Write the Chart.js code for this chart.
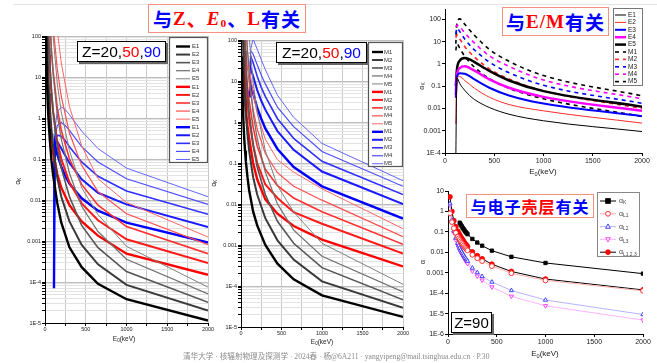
<!DOCTYPE html>
<html>
<head>
<meta charset="utf-8">
<title>K-shell internal conversion coefficients</title>
<script src="https://cdn.jsdelivr.net/npm/chart.js@4.4.1/dist/chart.umd.min.js"></script>
<style>
  html, body { margin: 0; padding: 0; background: #fff; }
  body { width: 657px; height: 363px; position: relative; overflow: hidden; font-family: "Liberation Sans", Arial, sans-serif; }
  .pane { position: absolute; }
  .rule { position: absolute; left: 13px; top: 4px; width: 644px; height: 1px; background: #e3e3e3; }
  .tag { position: absolute; box-sizing: border-box; border: 1px solid #f3907f; background: #fff; display: flex; align-items: center; justify-content: center; white-space: nowrap; font-weight: 700; font-family: "Noto Sans CJK SC", sans-serif; color: #0000ff; letter-spacing: 1px; }
  .tag .r { color: #ff0000; }
  .tag .lat { font-family: "Liberation Serif", serif; }
  .tag sub { font-size: 60%; vertical-align: -0.2em; }
  .zbox { position: absolute; box-sizing: border-box; border: 1px solid #000; background: #fff; box-shadow: 2px 2px 0 #666; display: flex; align-items: center; justify-content: center; color: #000; white-space: nowrap; }
  .foot { position: absolute; left: 183px; top: 350px; font-size: 7.6px; font-family: "Liberation Serif", "Noto Sans CJK SC", serif; color: #8a8a8a; white-space: nowrap; }
</style>
</head>
<body>
<div class="rule"></div>
<div class="pane" id="p1"><canvas id="c1"></canvas></div>
<div class="pane" id="p2"><canvas id="c2"></canvas></div>
<div class="pane" id="p3"><canvas id="c3"></canvas></div>
<div class="pane" id="p4"><canvas id="c4"></canvas></div>

<div class="tag" style="left:148px;top:4px;width:158px;height:29px;font-size:19px">与<span class="r lat">Z</span><span class="r">、</span><span class="r lat"><i>E</i><sub>0</sub></span>、<span class="r lat">L</span>有关</div>
<div class="tag" style="left:502px;top:7px;width:107px;height:29px;font-size:19px">与<span class="r lat">E/M</span>有关</div>
<div class="tag" style="left:466px;top:194px;width:128px;height:24px;font-size:16px">与电子<span class="r">壳层</span>有关</div>

<div class="zbox" style="left:77px;top:41px;width:89px;height:21px;font-size:15.5px">Z=20,<span style="color:#ff0000">50</span>,<span style="color:#0000ff">90</span></div>
<div class="zbox" style="left:276px;top:42px;width:91px;height:21px;font-size:15.5px">Z=20,<span style="color:#ff0000">50</span>,<span style="color:#0000ff">90</span></div>
<div class="zbox" style="left:451px;top:312px;width:41px;height:21px;font-size:15px;border-width:1.5px">Z=90</div>

<div class="foot">清华大学 · 核辐射物理及探测学 · 2024春 · 杨@6A211 · yangyipeng@mail.tsinghua.edu.cn · P.30</div>

<script>
const FONT = '"Liberation Sans", Arial, sans-serif';

// transition energies E0 (keV) for each Z (K edge cuts the low end)
const eZ20 = [10, 20, 30, 40, 50, 60, 80, 100, 150, 200, 300, 450, 650, 1000, 2000];
const eZ50 = [30, 40, 50, 60, 80, 100, 150, 200, 300, 450, 650, 1000, 2000];
const eZ90 = [110, 120, 150, 200, 250, 300, 450, 650, 1000, 2000];

// alpha_K, electric multipoles E1..E5
const z20E = [
  [200, 16, 3.5, 1.2, 0.55, 0.28, 0.09, 0.04, 0.0085, 0.0028, 7e-4, 2.3e-4, 9e-5, 3.8e-5, 1.15e-5],
  [8000, 350, 45, 11, 4, 1.7, 0.5, 0.2, 0.035, 0.012, 3e-3, 8e-4, 2.7e-4, 8.5e-5, 2e-5],
  [3e5, 6000, 900, 160, 50, 20, 4.5, 1.5, 0.2, 0.06, 0.012, 2.4e-3, 6.9e-4, 1.8e-4, 3.2e-5],
  [1e7, 1e5, 1e4, 3000, 800, 250, 45, 12, 1.2, 0.3, 0.045, 7e-3, 1.7e-3, 3.6e-4, 5.1e-5],
  [3e8, 2e6, 1e5, 2e4, 7000, 3000, 450, 100, 7, 1.4, 0.16, 0.02, 4.4e-3, 7.4e-4, 7.5e-5]
];
const z50E = [
  [18, 4.9, 1.85, 0.89, 0.3, 0.14, 0.043, 0.02, 0.0075, 0.003, 1.35e-3, 4.9e-4, 1.5e-4],
  [860, 133, 35, 15.6, 3.7, 1.37, 0.27, 0.1, 0.027, 8.3e-3, 3.2e-3, 1.1e-3, 2.9e-4],
  [1.2e4, 1800, 500, 180, 40, 13.7, 1.8, 0.5, 0.1, 0.024, 7.5e-3, 2.25e-3, 4.9e-4],
  [5e5, 6e4, 1.5e4, 4500, 700, 170, 16, 3.3, 0.43, 0.07, 0.016, 4.6e-3, 8.1e-4],
  [2e7, 2e6, 4e5, 1.2e5, 1.5e4, 3500, 140, 22, 1.9, 0.21, 0.033, 8.7e-3, 1.25e-3]
];
const z90E = [
  [7e-5, 0.24, 0.13, 0.065, 0.038, 0.025, 0.011, 0.0055, 0.0028, 9.2e-4],
  [0.002, 0.22, 0.27, 0.18, 0.12, 0.08, 0.032, 0.015, 0.0078, 0.0022],
  [0.03, 0.25, 0.38, 0.36, 0.28, 0.2, 0.085, 0.038, 0.0165, 0.0045],
  [0.04, 0.3, 0.65, 0.78, 0.65, 0.5, 0.2, 0.085, 0.033, 0.0078],
  [0.1, 0.5, 1.4, 1.85, 1.6, 1.2, 0.48, 0.18, 0.06, 0.012]
];

// alpha_K, magnetic multipoles M1..M5
const z20M = [
  [40, 4, 1, 0.4, 0.2, 0.11, 0.045, 0.022, 6.5e-3, 3e-3, 1e-3, 3.5e-4, 1.45e-4, 5.9e-5, 1.76e-5],
  [6000, 250, 35, 9, 3.5, 1.6, 0.5, 0.2, 0.045, 0.017, 4.5e-3, 1.3e-3, 4.4e-4, 1.3e-4, 2.95e-5],
  [2e5, 5000, 900, 180, 55, 22, 5, 1.8, 0.27, 0.08, 0.017, 3.8e-3, 1.1e-3, 2.8e-4, 4.6e-5],
  [8e6, 1e5, 1.5e4, 4000, 1000, 300, 55, 16, 1.6, 0.4, 0.06, 0.01, 2.3e-3, 5.3e-4, 7.2e-5],
  [2e8, 2e6, 2e5, 3e4, 9000, 4000, 550, 130, 9, 1.8, 0.2, 0.028, 6.4e-3, 1.1e-3, 1.1e-4]
];
const z50M = [
  [15, 6.5, 3.3, 1.9, 0.8, 0.4, 0.1, 0.04, 0.013, 5.8e-3, 2.9e-3, 1.35e-3, 3e-4],
  [60, 25, 12, 6.5, 2.6, 1.2, 0.28, 0.1, 0.03, 0.014, 6.3e-3, 3.3e-3, 6.2e-4],
  [200, 80, 38, 20, 7.5, 3.4, 0.75, 0.26, 0.07, 0.028, 0.014, 6.5e-3, 1.04e-3],
  [600, 240, 110, 58, 21, 9.5, 2, 0.68, 0.17, 0.058, 0.027, 0.0124, 1.6e-3],
  [1500, 600, 280, 150, 55, 24, 5, 1.6, 0.38, 0.12, 0.06, 0.0235, 2.5e-3]
];
const z90M = [
  [4, 8, 5, 2.2, 1.2, 0.7, 0.22, 0.08, 0.027, 0.0044],
  [15, 20, 13, 6, 3.3, 2, 0.6, 0.21, 0.062, 0.01],
  [22, 40, 28, 13, 7, 4.2, 1.2, 0.4, 0.11, 0.017],
  [45, 55, 45, 25, 14, 8.5, 2.3, 0.77, 0.19, 0.027],
  [8, 60, 105, 60, 33, 19, 4.5, 1.3, 0.3, 0.037]
];

// Z=90 shell by shell
const eK = [120, 130, 140, 150, 160, 170, 180, 190, 200, 250, 300, 350, 450, 650, 1000, 2000];
const aK = [0.28, 0.23, 0.19, 0.16, 0.135, 0.115, 0.1, 0.088, 0.077, 0.045, 0.03, 0.021, 0.012, 0.006, 0.003, 9e-4];
const eL = [20, 40, 60, 80, 100, 110, 120, 130, 140, 150, 160, 170, 180, 190, 200, 250, 300, 350, 450, 650, 1000, 2000];
const aL1 = [0.8, 0.3, 0.15, 0.09, 0.058, 0.048, 0.04, 0.034, 0.029, 0.025, 0.021, 0.018, 0.016, 0.014, 0.0125, 0.0075, 0.0051, 0.0037, 0.0021, 9.4e-4, 4.2e-4, 1.3e-4];
const aL2 = [2.4, 0.38, 0.11, 0.05, 0.028, 0.021, 0.016, 0.013, 0.0105, 0.0087, 0.0072, 0.006, 0.0051, 0.0044, 0.0037, 0.0017, 1.02e-3, 6.6e-4, 3.5e-4, 1.35e-4, 4.6e-5, 9e-6];
const aL3 = [2.0, 0.32, 0.09, 0.04, 0.022, 0.017, 0.013, 0.0104, 0.0084, 0.0069, 0.0057, 0.0047, 0.0039, 0.0033, 0.0028, 0.0012, 6.8e-4, 4.3e-4, 2e-4, 7e-5, 2.4e-5, 4.8e-6];
const aL123 = [5.2, 1.0, 0.35, 0.18, 0.108, 0.086, 0.069, 0.057, 0.048, 0.041, 0.034, 0.029, 0.025, 0.022, 0.019, 0.0104, 0.0068, 0.0048, 0.0026, 1.15e-3, 4.9e-4, 1.44e-4];

const multLabelsE = ['E1', 'E2', 'E3', 'E4', 'E5'];
const multLabelsM = ['M1', 'M2', 'M3', 'M4', 'M5'];
const shellLabels = ['αK', 'αL1', 'αL2', 'αL3', 'αL1,2,3'];

const decadePow = [-6, -5, -4, -3, -2, -1, 0, 1, 2];
const decadeText = ['1E-6', '1E-5', '1E-4', '0.001', '0.01', '0.1', '1', '10', '100'];

// styles
const shadeBlack = ['#000000', '#3a3a3a', '#555555', '#6e6e6e', '#808080'];
const shadeRed = ['#ff0000', '#ff1a1a', '#ff3030', '#ff4d4d', '#ff6464'];
const shadeBlue = ['#0000ff', '#1a1aff', '#3030ff', '#4d4dff', '#6464ff'];
const multWidth = [2.4, 2.0, 1.6, 1.2, 1.0];

const pts = (xs, ys) => xs.map((x, i) => ({ x: x, y: ys[i] }));
const isDecade = v => { const l = Math.log10(v); return Math.abs(l - Math.round(l)) < 1e-6; };
function decadeLabel(v) {
  if (!isDecade(v)) return '';
  const i = decadePow.indexOf(Math.round(Math.log10(v)));
  return i < 0 ? '' : decadeText[i];
}
function logTicks(min, max, minor) {
  const out = [];
  const p0 = Math.floor(Math.log10(min) + 1e-9), p1 = Math.floor(Math.log10(max) + 1e-9);
  for (let p = p0; p <= p1; p++) {
    for (let m = 1; m <= 9; m++) {
      if (!minor && m > 1) continue;
      const v = m * Math.pow(10, p);
      if (v >= min * 0.9999 && v <= max * 1.0001) out.push({ value: v });
    }
  }
  return out;
}

// text with subscripts drawn on the canvas (axis titles)
function textPlugin(items, ox, oy) {
  return {
    id: 'texts',
    afterDraw(chart) {
      const ctx = chart.ctx;
      items.forEach(it => {
        ctx.save();
        ctx.translate(it.x - ox, it.y - oy);
        if (it.rot) ctx.rotate(it.rot);
        ctx.fillStyle = it.color || '#222';
        ctx.textBaseline = 'middle';
        const big = it.size + 'px ' + FONT, small = (it.size * 0.7) + 'px ' + FONT;
        let w = 0;
        it.parts.forEach(p => { ctx.font = p.sub ? small : big; w += ctx.measureText(p.t).width; });
        let x = -w / 2;
        it.parts.forEach(p => {
          ctx.font = p.sub ? small : big;
          ctx.fillText(p.t, x, p.sub ? it.size * 0.3 : 0);
          x += ctx.measureText(p.t).width;
        });
        ctx.restore();
      });
    }
  };
}

function marker(ctx, style, r, x, y, rot) {
  ctx.beginPath();
  if (style === 'rect') {
    ctx.rect(x - r, y - r, 2 * r, 2 * r);
  } else if (style === 'triangle') {
    const s = rot ? -1 : 1;
    ctx.moveTo(x, y - s * r * 1.1);
    ctx.lineTo(x + r, y + s * r * 0.7);
    ctx.lineTo(x - r, y + s * r * 0.7);
    ctx.closePath();
  } else {
    ctx.arc(x, y, r, 0, Math.PI * 2);
  }
  ctx.fill();
  ctx.stroke();
}

// boxed legend inside the plot
function legendPlugin(o, ox, oy) {
  return {
    id: 'boxLegend',
    afterDatasetsDraw(chart) {
      const ctx = chart.ctx;
      const x = o.x - ox, y = o.y - oy;
      ctx.save();
      ctx.fillStyle = '#fff';
      ctx.fillRect(x, y, o.w, o.h);
      ctx.strokeStyle = o.border;
      ctx.lineWidth = o.borderWidth;
      ctx.strokeRect(x + 0.5, y + 0.5, o.w - 1, o.h - 1);
      chart.data.datasets.forEach((ds, i) => {
        const ry = y + o.first + i * o.row;
        ctx.strokeStyle = ds.borderColor;
        ctx.lineWidth = ds.borderWidth;
        ctx.setLineDash(ds.borderDash || []);
        ctx.beginPath();
        ctx.moveTo(x + o.l0, ry);
        ctx.lineTo(x + o.l1, ry);
        ctx.stroke();
        ctx.setLineDash([]);
        if (ds.pointRadius) {
          ctx.fillStyle = ds.pointBackgroundColor;
          ctx.strokeStyle = ds.pointBorderColor;
          ctx.lineWidth = ds.pointBorderWidth;
          marker(ctx, ds.pointStyle, ds.pointRadius, x + (o.l0 + o.l1) / 2, ry, ds.pointRotation);
        }
        ctx.fillStyle = o.color;
        ctx.textBaseline = 'middle';
        ctx.font = o.size + 'px ' + FONT;
        const lbl = ds.label;
        if (lbl[0] === 'α') {
          ctx.fillText('α', x + o.tx, ry);
          const w = ctx.measureText('α').width;
          ctx.font = (o.size * 0.7) + 'px ' + FONT;
          ctx.fillText(lbl.slice(1), x + o.tx + w, ry + o.size * 0.3);
        } else {
          ctx.fillText(lbl, x + o.tx, ry);
        }
      });
      ctx.restore();
    }
  };
}

function build(id, box, plot, spec) {
  const pane = document.getElementById('p' + id);
  pane.style.left = box.left + 'px';
  pane.style.top = box.top + 'px';
  pane.style.width = box.w + 'px';
  pane.style.height = box.h + 'px';
  const yW = plot.l - box.left, pt = plot.t - box.top;
  const pr = box.left + box.w - plot.r, xH = box.top + box.h - plot.b;

  new Chart(document.getElementById('c' + id), {
    type: 'line',
    data: { datasets: spec.datasets },
    options: {
      responsive: true,
      maintainAspectRatio: false,
      animation: false,
      layout: { padding: { left: 0, top: pt, right: pr, bottom: 0 } },
      plugins: { legend: { display: false }, tooltip: { enabled: false } },
      elements: { point: { radius: 0 }, line: { tension: 0 } },
      scales: {
        x: {
          type: 'linear', min: 0, max: 2000,
          afterFit: s => { s.height = xH; },
          ticks: {
            stepSize: spec.xStep, autoSkip: false, maxRotation: 0,
            font: { size: spec.tick, family: FONT }, color: '#222', padding: spec.xPad,
            callback: v => (v % 500 === 0 ? String(v) : '')
          },
          grid: spec.grid
            ? { color: '#c9c9c9', tickLength: 3, tickColor: '#000' }
            : { drawOnChartArea: false, tickLength: 3, tickColor: '#000' },
          border: { color: '#000', width: 1 }
        },
        y: {
          type: 'logarithmic', min: spec.yMin, max: spec.yMax,
          afterFit: s => { s.width = yW; },
          afterBuildTicks: s => { s.ticks = logTicks(spec.yMin, spec.yMax, spec.grid); },
          ticks: {
            autoSkip: false, font: { size: spec.tick, family: FONT }, color: '#222', padding: 1,
            callback: v => decadeLabel(v)
          },
          grid: spec.grid
            ? { color: c => (isDecade(c.tick.value) ? '#bdbdbd' : '#e3e3e3'), tickLength: 3, tickColor: '#000' }
            : { drawOnChartArea: false, tickLength: 3, tickColor: '#000' },
          border: { color: '#000', width: 1 }
        }
      }
    },
    plugins: [textPlugin(spec.texts, box.left, box.top), legendPlugin(spec.legend, box.left, box.top)]
  });
}

function multipoleSets(labels, groups) {
  const out = [];
  groups.forEach(g => {
    g.rows.forEach((row, i) => {
      out.push({
        label: labels[i], data: pts(g.e, row),
        borderColor: g.shade[i], borderWidth: multWidth[i], fill: false
      });
    });
  });
  return out;
}

const eTitle = [{ t: 'E' }, { t: '0', sub: true }, { t: '(keV)' }];
const aKTitle = [{ t: 'α' }, { t: 'K', sub: true }];

// chart 1: electric multipoles, Z = 20, 50, 90
build(1, { left: 0, top: 28, w: 218, h: 322 }, { l: 45, t: 36, r: 208, b: 323 }, {
  datasets: multipoleSets(multLabelsE, [
    { e: eZ20, rows: z20E, shade: shadeBlack },
    { e: eZ50, rows: z50E, shade: shadeRed },
    { e: eZ90, rows: z90E, shade: shadeBlue }
  ]),
  yMin: 1e-5, yMax: 100, grid: true, tick: 5.5, xStep: 250, xPad: 0,
  texts: [
    { x: 124, y: 339, size: 6.5, parts: eTitle },
    { x: 18, y: 181, size: 6.5, rot: -Math.PI / 2, parts: aKTitle }
  ],
  legend: { x: 169, y: 37, w: 39, h: 126, first: 9.5, row: 8.07, l0: 7, l1: 21, tx: 23, size: 6, color: '#333', border: '#555', borderWidth: 1.2 }
});

// chart 2: magnetic multipoles, Z = 20, 50, 90
build(2, { left: 206, top: 32, w: 207, h: 320 }, { l: 241, t: 40, r: 403, b: 327 }, {
  datasets: multipoleSets(multLabelsM, [
    { e: eZ20, rows: z20M, shade: shadeBlack },
    { e: eZ50, rows: z50M, shade: shadeRed },
    { e: eZ90, rows: z90M, shade: shadeBlue }
  ]),
  yMin: 1e-5, yMax: 100, grid: true, tick: 5.5, xStep: 250, xPad: 0,
  texts: [
    { x: 322, y: 342, size: 6.5, parts: eTitle },
    { x: 214, y: 183, size: 6.5, rot: -Math.PI / 2, parts: aKTitle }
  ],
  legend: { x: 368, y: 42, w: 35, h: 125, first: 10, row: 7.98, l0: 4, l1: 15, tx: 16, size: 6, color: '#333', border: '#555', borderWidth: 1.2 }
});

// chart 3: Z = 90, E1..E5 against M1..M5
const emColors = ['#000000', '#ff2a2a', '#0000ff', '#ff00ff', '#000000'];
const eWidths = [1, 1, 2, 2.5, 2.5];
const em = [];
z90E.forEach((row, i) => em.push({
  label: multLabelsE[i], data: pts(eZ90, row), borderColor: emColors[i], borderWidth: eWidths[i],
  cubicInterpolationMode: 'monotone'
}));
z90M.forEach((row, i) => em.push({
  label: multLabelsM[i], data: pts(eZ90, row), borderColor: emColors[i], borderWidth: 1.6,
  borderDash: [4, 4], cubicInterpolationMode: 'monotone'
}));
build(3, { left: 416, top: 0, w: 236, h: 180 }, { l: 445, t: 9, r: 642, b: 153 }, {
  datasets: em,
  yMin: 1e-4, yMax: 290, grid: false, tick: 7, xStep: 500, xPad: 1,
  texts: [
    { x: 543, y: 172, size: 8, parts: eTitle },
    { x: 422, y: 86, size: 7, rot: -Math.PI / 2, parts: aKTitle }
  ],
  legend: { x: 613, y: 8, w: 30, h: 78, first: 7, row: 7.4, l0: 2, l1: 13, tx: 15, size: 6.5, color: '#222', border: '#777', borderWidth: 1 }
});

// chart 4: Z = 90, K and L subshells
const shellSeries = [
  { e: eK, v: aK, line: '#000000', style: 'rect', edge: '#000000', fillC: '#000000', rot: 0 },
  { e: eL, v: aL1, line: '#ffb0b0', style: 'circle', edge: '#ff2020', fillC: '#ffffff', rot: 0 },
  { e: eL, v: aL2, line: '#b4b4ff', style: 'triangle', edge: '#3030ff', fillC: '#ffffff', rot: 0 },
  { e: eL, v: aL3, line: '#ffb4ff', style: 'triangle', edge: '#ff30ff', fillC: '#ffffff', rot: 180 },
  { e: eL, v: aL123, line: '#000000', style: 'circle', edge: '#ff0000', fillC: '#ff0000', rot: 0 }
];
build(4, { left: 416, top: 183, w: 237, h: 180 }, { l: 448, t: 191, r: 643, b: 334 }, {
  datasets: shellSeries.map((s, i) => ({
    label: shellLabels[i], data: pts(s.e, s.v), borderColor: s.line, borderWidth: 1,
    pointStyle: s.style, pointRotation: s.rot, pointRadius: 2.4,
    pointBorderColor: s.edge, pointBackgroundColor: s.fillC, pointBorderWidth: 0.9
  })),
  yMin: 1e-6, yMax: 10, grid: false, tick: 7, xStep: 500, xPad: 1,
  texts: [
    { x: 545, y: 354, size: 8, parts: eTitle },
    { x: 423, y: 262, size: 7.5, rot: -Math.PI / 2, parts: [{ t: 'α' }] }
  ],
  legend: { x: 597, y: 192, w: 43, h: 65, first: 9, row: 12.8, l0: 3, l1: 19, tx: 22, size: 7, color: '#444', border: '#888', borderWidth: 1 }
});
</script>
</body>
</html>
